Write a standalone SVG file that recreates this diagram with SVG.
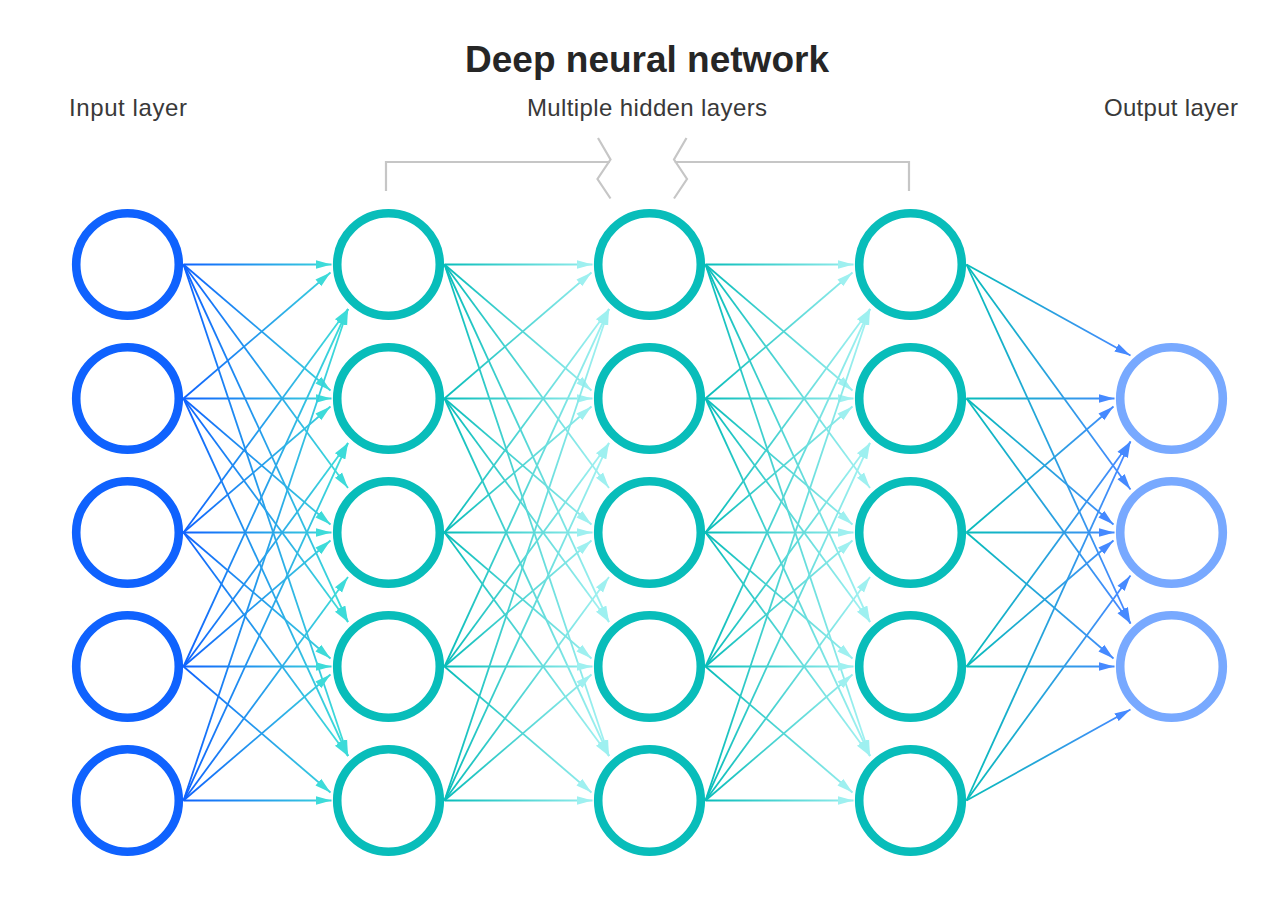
<svg xmlns="http://www.w3.org/2000/svg" width="1280" height="909" viewBox="0 0 1280 909">
<style>
.title{font-family:"Liberation Sans",Arial,sans-serif;font-weight:700;font-size:37px;fill:#262626;text-anchor:middle}
.lbl{font-family:"Liberation Sans",Arial,sans-serif;font-size:24px;fill:#393939}
.node circle{fill:#fff;stroke-width:8.6}
.in circle{stroke:#0f62fe}
.hid circle{stroke:#08bdba}
.out circle{stroke:#78a9ff}
.bracket{fill:none;stroke:#c6c6c6;stroke-width:2.2}
#connectors path{fill:none;stroke-width:1.8}
.c1{stroke:url(#gr1);marker-end:url(#a1)}
.c2{stroke:url(#gr2);marker-end:url(#a2)}
.c3{stroke:url(#gr3);marker-end:url(#a2)}
.c4{stroke:url(#gr4);marker-end:url(#a4)}
</style>
<defs>
<linearGradient id="gr1" gradientUnits="userSpaceOnUse" x1="183.5" y1="0" x2="340" y2="0"><stop offset="0" stop-color="#0f62fe"/><stop offset="1" stop-color="#3ddbd9"/></linearGradient>
<linearGradient id="gr2" gradientUnits="userSpaceOnUse" x1="444.5" y1="0" x2="601" y2="0"><stop offset="0" stop-color="#08bdba"/><stop offset="1" stop-color="#9ef0f0"/></linearGradient>
<linearGradient id="gr3" gradientUnits="userSpaceOnUse" x1="705.5" y1="0" x2="862" y2="0"><stop offset="0" stop-color="#08bdba"/><stop offset="1" stop-color="#9ef0f0"/></linearGradient>
<linearGradient id="gr4" gradientUnits="userSpaceOnUse" x1="966.5" y1="0" x2="1123" y2="0"><stop offset="0" stop-color="#08bdba"/><stop offset="1" stop-color="#4589ff"/></linearGradient>
<marker id="a1" markerUnits="userSpaceOnUse" markerWidth="17" markerHeight="10" refX="16" refY="5" orient="auto" viewBox="0 0 17 10"><path d="M0 0.6L16 5L0 9.4z" fill="#3ddbd9"/></marker>
<marker id="a2" markerUnits="userSpaceOnUse" markerWidth="17" markerHeight="10" refX="16" refY="5" orient="auto" viewBox="0 0 17 10"><path d="M0 0.6L16 5L0 9.4z" fill="#9ef0f0"/></marker>
<marker id="a4" markerUnits="userSpaceOnUse" markerWidth="17" markerHeight="10" refX="16" refY="5" orient="auto" viewBox="0 0 17 10"><path d="M0 0.6L16 5L0 9.4z" fill="#4589ff"/></marker>
</defs>
<rect width="1280" height="909" fill="#fff"/>
<text class="title" x="647" y="72">Deep neural network</text>
<text class="lbl" x="69" y="116" textLength="118" lengthAdjust="spacing">Input layer</text>
<text class="lbl" x="527" y="116" textLength="240" lengthAdjust="spacing">Multiple hidden layers</text>
<text class="lbl" x="1104" y="116" textLength="134" lengthAdjust="spacing">Output layer</text>
<g id="bracket">
<path class="bracket" d="M386 191V162H610M598 138L610.5 159.5L597.5 179L610.5 198.5"/>
<path class="bracket" d="M909 191V162H674.5M686.5 138L674 159.5L687 179L674 198.5"/>
</g>
<g id="connectors">
<g id="gap1">
<path class="c1" d="M183.5 264.5L331.5 264.5"/><path class="c1" d="M183.5 264.5L330.5 390.5"/><path class="c1" d="M183.5 264.5L348 488"/><path class="c1" d="M183.5 264.5L348 622"/><path class="c1" d="M183.5 264.5L348 756"/>
<path class="c1" d="M183.5 398.5L330.5 272.5"/><path class="c1" d="M183.5 398.5L331.5 398.5"/><path class="c1" d="M183.5 398.5L330.5 524.5"/><path class="c1" d="M183.5 398.5L348 622"/><path class="c1" d="M183.5 398.5L348 756"/>
<path class="c1" d="M183.5 532.5L348 309"/><path class="c1" d="M183.5 532.5L330.5 406.5"/><path class="c1" d="M183.5 532.5L331.5 532.5"/><path class="c1" d="M183.5 532.5L330.5 658.5"/><path class="c1" d="M183.5 532.5L348 756"/>
<path class="c1" d="M183.5 666.5L348 309"/><path class="c1" d="M183.5 666.5L348 443"/><path class="c1" d="M183.5 666.5L330.5 540.5"/><path class="c1" d="M183.5 666.5L331.5 666.5"/><path class="c1" d="M183.5 666.5L330.5 792.5"/>
<path class="c1" d="M183.5 800.5L348 309"/><path class="c1" d="M183.5 800.5L348 443"/><path class="c1" d="M183.5 800.5L348 577"/><path class="c1" d="M183.5 800.5L330.5 674.5"/><path class="c1" d="M183.5 800.5L331.5 800.5"/>
</g>
<g id="gap2">
<path class="c2" d="M444.5 264.5L592.5 264.5"/><path class="c2" d="M444.5 264.5L591.5 390.5"/><path class="c2" d="M444.5 264.5L609 488"/><path class="c2" d="M444.5 264.5L609 622"/><path class="c2" d="M444.5 264.5L609 756"/>
<path class="c2" d="M444.5 398.5L591.5 272.5"/><path class="c2" d="M444.5 398.5L592.5 398.5"/><path class="c2" d="M444.5 398.5L591.5 524.5"/><path class="c2" d="M444.5 398.5L609 622"/><path class="c2" d="M444.5 398.5L609 756"/>
<path class="c2" d="M444.5 532.5L609 309"/><path class="c2" d="M444.5 532.5L591.5 406.5"/><path class="c2" d="M444.5 532.5L592.5 532.5"/><path class="c2" d="M444.5 532.5L591.5 658.5"/><path class="c2" d="M444.5 532.5L609 756"/>
<path class="c2" d="M444.5 666.5L609 309"/><path class="c2" d="M444.5 666.5L609 443"/><path class="c2" d="M444.5 666.5L591.5 540.5"/><path class="c2" d="M444.5 666.5L592.5 666.5"/><path class="c2" d="M444.5 666.5L591.5 792.5"/>
<path class="c2" d="M444.5 800.5L609 309"/><path class="c2" d="M444.5 800.5L609 443"/><path class="c2" d="M444.5 800.5L609 577"/><path class="c2" d="M444.5 800.5L591.5 674.5"/><path class="c2" d="M444.5 800.5L592.5 800.5"/>
</g>
<g id="gap3">
<path class="c3" d="M705.5 264.5L853.5 264.5"/><path class="c3" d="M705.5 264.5L852.5 390.5"/><path class="c3" d="M705.5 264.5L870 488"/><path class="c3" d="M705.5 264.5L870 622"/><path class="c3" d="M705.5 264.5L870 756"/>
<path class="c3" d="M705.5 398.5L852.5 272.5"/><path class="c3" d="M705.5 398.5L853.5 398.5"/><path class="c3" d="M705.5 398.5L852.5 524.5"/><path class="c3" d="M705.5 398.5L870 622"/><path class="c3" d="M705.5 398.5L870 756"/>
<path class="c3" d="M705.5 532.5L870 309"/><path class="c3" d="M705.5 532.5L852.5 406.5"/><path class="c3" d="M705.5 532.5L853.5 532.5"/><path class="c3" d="M705.5 532.5L852.5 658.5"/><path class="c3" d="M705.5 532.5L870 756"/>
<path class="c3" d="M705.5 666.5L870 309"/><path class="c3" d="M705.5 666.5L870 443"/><path class="c3" d="M705.5 666.5L852.5 540.5"/><path class="c3" d="M705.5 666.5L853.5 666.5"/><path class="c3" d="M705.5 666.5L852.5 792.5"/>
<path class="c3" d="M705.5 800.5L870 309"/><path class="c3" d="M705.5 800.5L870 443"/><path class="c3" d="M705.5 800.5L870 577"/><path class="c3" d="M705.5 800.5L852.5 674.5"/><path class="c3" d="M705.5 800.5L853.5 800.5"/>
</g>
<g id="gap4">
<path class="c4" d="M966.5 264.5L1130.5 355.5"/><path class="c4" d="M966.5 264.5L1130.5 489.5"/><path class="c4" d="M966.5 264.5L1130.5 623.5"/>
<path class="c4" d="M966.5 398.5L1114.5 398.5"/><path class="c4" d="M966.5 398.5L1113.5 524.5"/><path class="c4" d="M966.5 398.5L1130.5 623.5"/>
<path class="c4" d="M966.5 532.5L1113.5 406.5"/><path class="c4" d="M966.5 532.5L1114.5 532.5"/><path class="c4" d="M966.5 532.5L1113.5 658.5"/>
<path class="c4" d="M966.5 666.5L1130.5 441.5"/><path class="c4" d="M966.5 666.5L1113.5 540.5"/><path class="c4" d="M966.5 666.5L1114.5 666.5"/>
<path class="c4" d="M966.5 800.5L1130.5 441.5"/><path class="c4" d="M966.5 800.5L1130.5 575.5"/><path class="c4" d="M966.5 800.5L1130.5 709.5"/>
</g>
</g>
<g id="layer-input" class="node in">
<g id="in1"><circle cx="127.5" cy="264.5" r="51.3"/></g>
<g id="in2"><circle cx="127.5" cy="398.5" r="51.3"/></g>
<g id="in3"><circle cx="127.5" cy="532.5" r="51.3"/></g>
<g id="in4"><circle cx="127.5" cy="666.5" r="51.3"/></g>
<g id="in5"><circle cx="127.5" cy="800.5" r="51.3"/></g>
</g>
<g id="layer-h1" class="node hid">
<g id="h1n1"><circle cx="388.5" cy="264.5" r="51.3"/></g>
<g id="h1n2"><circle cx="388.5" cy="398.5" r="51.3"/></g>
<g id="h1n3"><circle cx="388.5" cy="532.5" r="51.3"/></g>
<g id="h1n4"><circle cx="388.5" cy="666.5" r="51.3"/></g>
<g id="h1n5"><circle cx="388.5" cy="800.5" r="51.3"/></g>
</g>
<g id="layer-h2" class="node hid">
<g id="h2n1"><circle cx="649.5" cy="264.5" r="51.3"/></g>
<g id="h2n2"><circle cx="649.5" cy="398.5" r="51.3"/></g>
<g id="h2n3"><circle cx="649.5" cy="532.5" r="51.3"/></g>
<g id="h2n4"><circle cx="649.5" cy="666.5" r="51.3"/></g>
<g id="h2n5"><circle cx="649.5" cy="800.5" r="51.3"/></g>
</g>
<g id="layer-h3" class="node hid">
<g id="h3n1"><circle cx="910.5" cy="264.5" r="51.3"/></g>
<g id="h3n2"><circle cx="910.5" cy="398.5" r="51.3"/></g>
<g id="h3n3"><circle cx="910.5" cy="532.5" r="51.3"/></g>
<g id="h3n4"><circle cx="910.5" cy="666.5" r="51.3"/></g>
<g id="h3n5"><circle cx="910.5" cy="800.5" r="51.3"/></g>
</g>
<g id="layer-output" class="node out">
<g id="out1"><circle cx="1171.5" cy="398.5" r="51.3"/></g>
<g id="out2"><circle cx="1171.5" cy="532.5" r="51.3"/></g>
<g id="out3"><circle cx="1171.5" cy="666.5" r="51.3"/></g>
</g>
</svg>
